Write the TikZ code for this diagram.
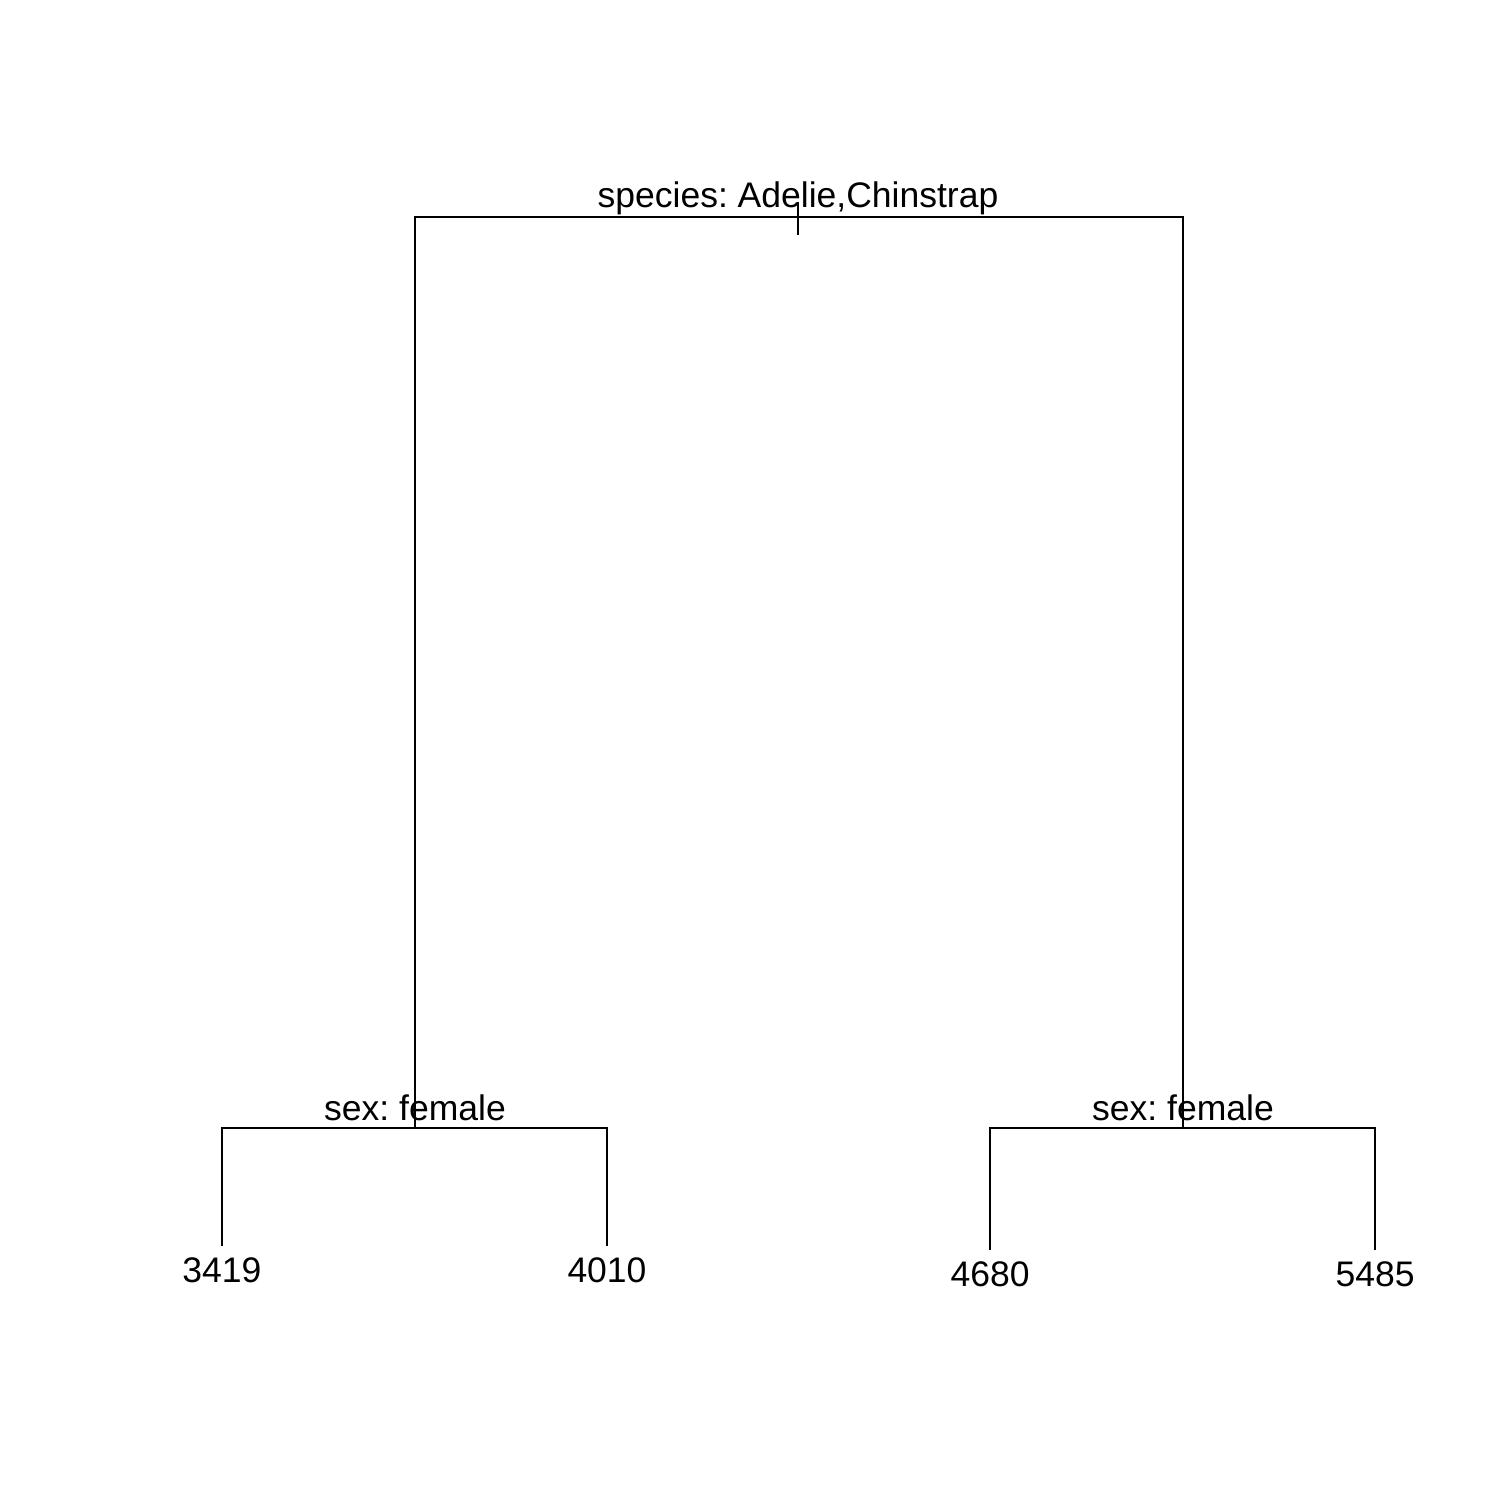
\documentclass[tikz,border=0pt]{standalone}
\usepackage{fontspec}
\setmainfont{Liberation Sans}
\frenchspacing

\begin{document}
\begin{tikzpicture}[x=0.01cm, y=-0.01cm,
	branch/.style = {line width=0.75pt, color=black},
	label/.style  = {anchor=base, inner sep=0pt, font=\fontsize{10.1}{12}\selectfont}]
	%\draw[help lines] (0,0) grid (1512,1512);
	\useasboundingbox (0,0) rectangle (1512,1512);

	% joints
	\coordinate (rootL) at (415,217);
	\coordinate (rootR) at (1183,217);
	\coordinate (tickT) at (798,202);
	\coordinate (tickB) at (798,235);
	\coordinate (sexA)  at (415,1128);
	\coordinate (sexB)  at (1183,1128);
	\coordinate (a1) at (222,1128); \coordinate (a2) at (607,1128);
	\coordinate (b1) at (990,1128); \coordinate (b2) at (1375,1128);
	\coordinate (e1) at (222,1246);
	\coordinate (e2) at (607,1246);
	\coordinate (e3) at (990,1250);
	\coordinate (e4) at (1375,1250);

	% splits and leaves
	\node[label] (species) at (798,207)  {species: Adelie,Chinstrap};
	\node[label] (sexL)    at (415,1120) {sex: female};
	\node[label] (sexR)    at (1183,1120) {sex: female};
	\node[label] (l3419) at (222,1282)  {3419};
	\node[label] (l4010) at (607,1282)  {4010};
	\node[label] (l4680) at (990,1286)  {4680};
	\node[label] (l5485) at (1375,1286) {5485};

	\draw[branch] (sexA) -- (rootL) -- (rootR) -- (sexB);
	\draw[branch] (tickT) -- (tickB);
	\draw[branch] (e1) -- (a1) -- (a2) -- (e2);
	\draw[branch] (e3) -- (b1) -- (b2) -- (e4);
\end{tikzpicture}
\end{document}
